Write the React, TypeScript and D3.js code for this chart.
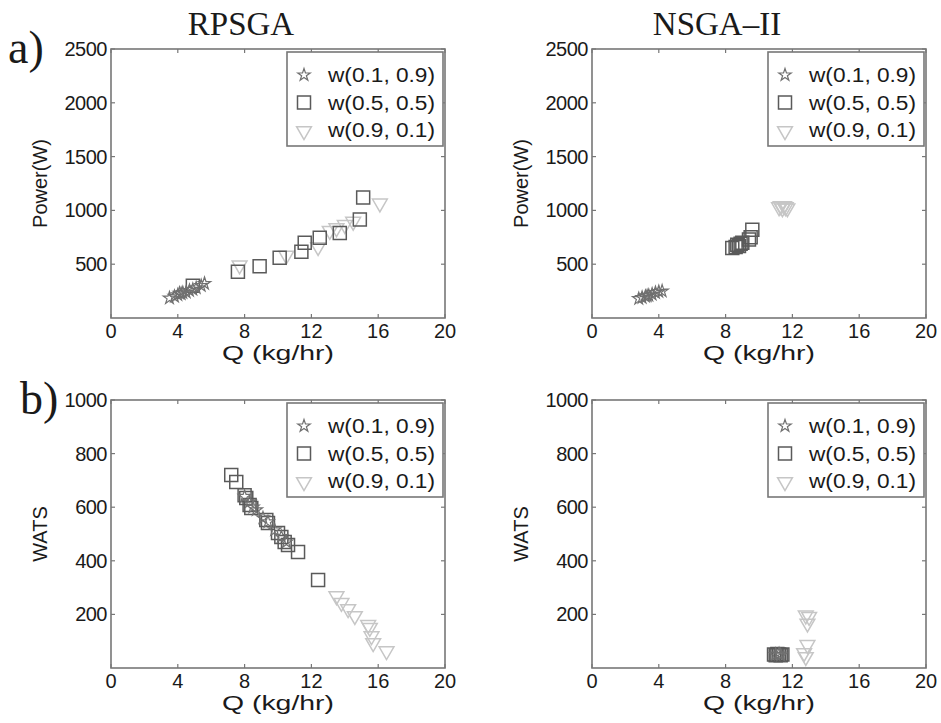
import React, { useEffect, useRef } from "react";
import * as d3 from "d3";

// ---------- data ----------
const xTicks = [0, 4, 8, 12, 16, 20];
const powerTicks = [500, 1000, 1500, 2000, 2500];
const watsTicks = [200, 400, 600, 800, 1000];
const legendLabels = ["w(0.1, 0.9)", "w(0.5, 0.5)", "w(0.9, 0.1)"];

// RPSGA Power vs Q
const rpPowStar: [number, number][] = [
  [3.5, 185], [3.8, 200], [4.0, 215], [4.2, 225], [4.3, 235], [4.5, 240],
  [4.7, 255], [4.9, 265], [5.1, 280], [5.4, 300], [5.6, 320], [4.1, 230],
];
const rpPowSquare: [number, number][] = [
  [4.9, 300], [7.6, 430], [8.9, 480], [10.1, 560], [11.4, 615], [11.6, 700],
  [12.5, 745], [13.7, 790], [14.9, 915], [15.1, 1120],
];
const rpPowTri: [number, number][] = [
  [7.7, 500], [10.5, 590], [12.4, 670], [13.1, 820], [13.5, 845], [14.0, 875],
  [14.5, 905], [16.1, 1075],
];
// NSGA-II Power vs Q
const nsPowStar: [number, number][] = [
  [2.8, 180], [3.0, 190], [3.2, 200], [3.4, 210], [3.6, 220], [3.8, 235],
  [4.0, 245], [4.2, 250], [3.3, 205],
];
const nsPowSquare: [number, number][] = [
  [8.4, 650], [8.6, 660], [8.7, 680], [8.9, 690], [9.0, 700], [9.4, 730],
  [9.5, 750], [9.6, 820], [8.8, 670],
];
const nsPowTri: [number, number][] = [
  [11.2, 1040], [11.4, 1030], [11.5, 1050], [11.6, 1040], [11.7, 1030], [11.3, 1050],
];
// RPSGA WATS vs Q
const rpWatsStar: [number, number][] = [
  [8.0, 640], [8.3, 620], [8.5, 600], [8.7, 590], [9.1, 560], [9.4, 545],
  [9.8, 515], [10.2, 490], [10.5, 470],
];
const rpWatsSquare: [number, number][] = [
  [7.2, 720], [7.5, 694], [8.0, 645], [8.1, 634], [8.3, 608], [8.4, 597],
  [9.3, 552], [9.4, 541], [10.0, 504], [10.2, 489], [10.4, 470], [10.6, 459],
  [11.2, 433], [12.4, 328],
];
const rpWatsTri: [number, number][] = [
  [13.5, 272], [13.8, 247], [14.2, 224], [14.6, 198], [15.4, 165], [15.5, 154],
  [15.6, 123], [15.7, 97], [16.5, 67],
];
// NSGA-II WATS vs Q
const nsWatsStar: [number, number][] = [
  [11.0, 50], [11.2, 52], [11.3, 48],
];
const nsWatsSquare: [number, number][] = [
  [10.9, 50], [11.0, 48], [11.1, 52], [11.2, 50], [11.3, 48], [11.4, 50],
];
const nsWatsTri: [number, number][] = [
  [12.8, 200], [13.0, 195], [12.9, 170], [12.9, 90], [12.7, 60], [12.8, 45],
];

// ---------- styles ----------
const STAR_COLOR = "#707070";
const SQUARE_COLOR = "#5a5a5a";
const TRI_COLOR = "#c6c6c6";
const AXIS_COLOR = "#777777";
const TEXT_COLOR = "#1a1a1a";
const SANS = "'Liberation Sans', Arial, Helvetica, sans-serif";
const SERIF = "'Liberation Serif', 'Times New Roman', serif";

type Panel = {
  x0: number; y0: number; w: number; h: number;
  yMax: number; yTicks: number[]; yLabel: string;
  star: [number, number][]; square: [number, number][]; tri: [number, number][];
};

const panels: Panel[] = [
  { x0: 111, y0: 49, w: 334, h: 269, yMax: 2500, yTicks: powerTicks, yLabel: "Power(W)", star: rpPowStar, square: rpPowSquare, tri: rpPowTri },
  { x0: 592, y0: 49, w: 334, h: 269, yMax: 2500, yTicks: powerTicks, yLabel: "Power(W)", star: nsPowStar, square: nsPowSquare, tri: nsPowTri },
  { x0: 111, y0: 400, w: 334, h: 268, yMax: 1000, yTicks: watsTicks, yLabel: "WATS", star: rpWatsStar, square: rpWatsSquare, tri: rpWatsTri },
  { x0: 592, y0: 400, w: 334, h: 268, yMax: 1000, yTicks: watsTicks, yLabel: "WATS", star: nsWatsStar, square: nsWatsSquare, tri: nsWatsTri },
];

const starPath = d3.symbol(d3.symbolStar, 48)()!;
const squarePath = d3.symbol(d3.symbolSquare, 169)()!;
const triPath = d3.symbol(d3.symbolTriangle, 95)()!;

function drawMarker(g: d3.Selection<SVGGElement, unknown, null, undefined>, kind: number, x: number, y: number) {
  if (kind === 0) {
    g.append("path").attr("d", starPath).attr("transform", `translate(${x},${y})`)
      .attr("fill", "none").attr("stroke", STAR_COLOR).attr("stroke-width", 1.2);
  } else if (kind === 1) {
    g.append("path").attr("d", squarePath).attr("transform", `translate(${x},${y})`)
      .attr("fill", "none").attr("stroke", SQUARE_COLOR).attr("stroke-width", 1.5);
  } else {
    g.append("path").attr("d", triPath).attr("transform", `translate(${x},${y + 1}) rotate(180)`)
      .attr("fill", "none").attr("stroke", TRI_COLOR).attr("stroke-width", 1.5);
  }
}

export default function App() {
  const ref = useRef<SVGSVGElement>(null);
  useEffect(() => {
    const svg = d3.select(ref.current!);
    svg.selectAll("*").remove();
    svg.append("rect").attr("width", 941).attr("height", 723).attr("fill", "#fff");

    panels.forEach((p) => {
      const x = d3.scaleLinear().domain([0, 20]).range([p.x0, p.x0 + p.w]);
      const y = d3.scaleLinear().domain([0, p.yMax]).range([p.y0 + p.h, p.y0]);
      const g = svg.append("g");

      // data
      const dg = g.append("g");
      p.tri.forEach(([q, v]) => drawMarker(dg, 2, x(q), y(v)));
      p.square.forEach(([q, v]) => drawMarker(dg, 1, x(q), y(v)));
      p.star.forEach(([q, v]) => drawMarker(dg, 0, x(q), y(v)));

      // box
      g.append("rect").attr("x", p.x0).attr("y", p.y0).attr("width", p.w).attr("height", p.h)
        .attr("fill", "none").attr("stroke", AXIS_COLOR).attr("stroke-width", 1.6);

      // x ticks (inside, top and bottom)
      xTicks.forEach((t) => {
        const xx = x(t);
        g.append("line").attr("x1", xx).attr("x2", xx).attr("y1", p.y0 + p.h).attr("y2", p.y0 + p.h - 4)
          .attr("stroke", AXIS_COLOR).attr("stroke-width", 1.2);
        g.append("line").attr("x1", xx).attr("x2", xx).attr("y1", p.y0).attr("y2", p.y0 + 4)
          .attr("stroke", AXIS_COLOR).attr("stroke-width", 1.2);
        g.append("text").attr("x", xx).attr("y", p.y0 + p.h + 20).attr("text-anchor", "middle")
          .attr("font-family", SANS).attr("font-size", 20).attr("fill", TEXT_COLOR).text(String(t));
      });
      // y ticks
      p.yTicks.forEach((t) => {
        const yy = y(t);
        g.append("line").attr("x1", p.x0).attr("x2", p.x0 + 4).attr("y1", yy).attr("y2", yy)
          .attr("stroke", AXIS_COLOR).attr("stroke-width", 1.2);
        g.append("line").attr("x1", p.x0 + p.w).attr("x2", p.x0 + p.w - 4).attr("y1", yy).attr("y2", yy)
          .attr("stroke", AXIS_COLOR).attr("stroke-width", 1.2);
        g.append("text").attr("x", p.x0 - 4).attr("y", yy + 7).attr("text-anchor", "end")
          .attr("font-family", SANS).attr("font-size", 20).attr("letter-spacing", -0.5)
          .attr("fill", TEXT_COLOR).text(String(t));
      });

      // axis labels
      g.append("text").attr("x", p.x0 + p.w / 2).attr("y", p.y0 + p.h + 42).attr("text-anchor", "middle")
        .attr("font-family", SANS).attr("font-size", 20).attr("textLength", 112)
        .attr("lengthAdjust", "spacingAndGlyphs").attr("fill", TEXT_COLOR).text("Q (kg/hr)");
      g.append("text").attr("transform", `translate(${p.x0 - 64},${p.y0 + p.h / 2}) rotate(-90)`)
        .attr("text-anchor", "middle").attr("font-family", SANS).attr("font-size", 20)
        .attr("fill", TEXT_COLOR).text(p.yLabel);

      // legend
      const lw = 156, lh = 94;
      const lx = p.x0 + p.w - lw - 2, ly = p.y0 + 3;
      const lg = g.append("g");
      lg.append("rect").attr("x", lx).attr("y", ly).attr("width", lw).attr("height", lh)
        .attr("fill", "#fff").attr("stroke", AXIS_COLOR).attr("stroke-width", 1.6);
      legendLabels.forEach((lab, i) => {
        const cy = ly + 23 + i * 27.5;
        drawMarker(lg, i, lx + 17, cy);
        lg.append("text").attr("x", lx + 41).attr("y", cy + 7).attr("font-family", SANS)
          .attr("font-size", 20).attr("textLength", 107).attr("lengthAdjust", "spacingAndGlyphs")
          .attr("fill", TEXT_COLOR).text(lab);
      });
    });

    // titles
    svg.append("text").attr("x", 241).attr("y", 35).attr("text-anchor", "middle")
      .attr("font-family", SERIF).attr("font-size", 33).attr("fill", TEXT_COLOR).text("RPSGA");
    svg.append("text").attr("x", 717).attr("y", 35).attr("text-anchor", "middle")
      .attr("font-family", SERIF).attr("font-size", 33).attr("fill", TEXT_COLOR).text("NSGA–II");
    svg.append("text").attr("x", 8).attr("y", 63)
      .attr("font-family", SERIF).attr("font-size", 46).attr("fill", TEXT_COLOR).text("a)");
    svg.append("text").attr("x", 20).attr("y", 414)
      .attr("font-family", SERIF).attr("font-size", 46).attr("fill", TEXT_COLOR).text("b)");
  }, []);

  return (
    <div style={{ position: "fixed", left: 0, top: 0 }}>
      <svg ref={ref} width={941} height={723} />
    </div>
  );
}
